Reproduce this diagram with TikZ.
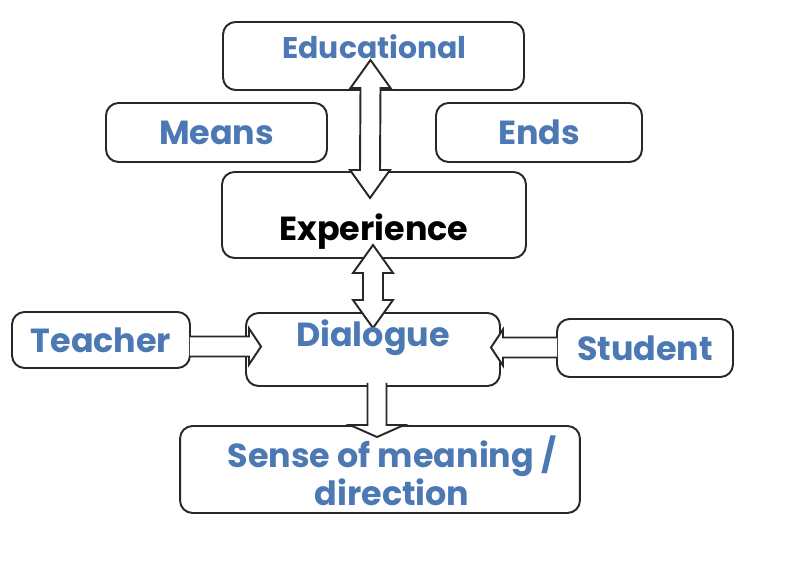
\documentclass[tikz,border=0pt]{standalone}
\usepackage{fontspec}
\setmainfont{Poppins}
\usetikzlibrary{positioning,calc}
\definecolor{txtblue}{RGB}{76,120,180}
\definecolor{edge}{RGB}{40,40,40}
\tikzset{
	box/.style={draw=edge,line width=1.1pt,rounded corners=0.25cm,fill=white,inner sep=0pt,outer sep=0pt,font=\bfseries\fontsize{19}{20}\selectfont,text=txtblue,align=center},
	lbl/.style={font=\bfseries\fontsize{19}{20}\selectfont,text=txtblue,align=center},
	barrow/.style={draw=edge,line width=1.1pt,fill=white,line join=miter},
}
% vertical double block arrow, tips at #1 (top) and #2 (bottom)
\newcommand{\dblarrow}[2]{%
	\draw[barrow] (#1) -- ($(#1)+(20,28)$) -- ($(#1)+(10,28)$) -- ($(#2)+(10,-28)$) -- ($(#2)+(20,-28)$) -- (#2) -- ($(#2)+(-20,-28)$) -- ($(#2)+(-10,-28)$) -- ($(#1)+(-10,28)$) -- ($(#1)+(-20,28)$) -- cycle;}
% horizontal block arrow from node side #1 to tip #2, #3=1 right, -1 left
\newcommand{\harrow}[3]{%
	\draw[barrow] ($(#1|-#2)+(0,-10)$) -- ($(#2)+(-12*#3,-10)$) -- ($(#2)+(-12*#3,-18)$) -- (#2) -- ($(#2)+(-12*#3,18)$) -- ($(#2)+(-12*#3,10)$) -- ($(#1|-#2)+(0,10)$);}

\begin{document}
\begin{tikzpicture}[x=0.02cm,y=-0.02cm]
	\useasboundingbox (0,0) rectangle (795,580);
	% boxes
	\node[box,minimum width=6.02cm,minimum height=1.36cm] (edu) at (373.5,56) {};
	\node[box,minimum width=4.42cm,minimum height=1.18cm] (means) at (216.5,132.5) {Means};
	\node[box,minimum width=4.12cm,minimum height=1.18cm] (ends) at (539,132.5) {Ends};
	\node[box,minimum width=6.08cm,minimum height=1.72cm] (exp) at (374,215) {};
	\node[box,minimum width=3.56cm,minimum height=1.12cm] (teacher) at (101,340) {Teacher};
	\node[box,minimum width=5.08cm,minimum height=1.46cm] (dia) at (373,349.5) {};
	\node[box,minimum width=3.52cm,minimum height=1.16cm] (student) at (645,348) {Student};
	\node[box,minimum width=8cm,minimum height=1.74cm] (sense) at (380,469.5) {};
	
	% block arrows
	\coordinate (t1) at ($(edu.south)+(-3,-30)$);
	\coordinate (b1) at ($(exp.north)+(-4,26)$);
	\dblarrow{t1}{b1}
	\coordinate (t2) at ($(exp.south)+(-1,-13)$);
	\coordinate (b2) at ($(dia.north)+(0,15)$);
	\dblarrow{t2}{b2}
	\coordinate (ta) at ($(dia.west)+(15,-3)$);
	\harrow{teacher.east}{ta}{1}
	\coordinate (sa) at ($(dia.east)+(-9,-2)$);
	\harrow{student.west}{sa}{-1}
	\coordinate (da) at ($(sense.north)+(-3,11)$);
	\draw[barrow] ($(da|-dia.south)+(-9.5,-3)$) -- ($(da)+(-9.5,-12)$) -- ($(da)+(-27,-12)$) -- (da) -- ($(da)+(27,-12)$) -- ($(da)+(9.5,-12)$) -- ($(da|-dia.south)+(9.5,-3)$);
	
	% labels
	\node[lbl,font=\bfseries\fontsize{17}{20}\selectfont] (edutxt) at ($(edu.center)+(1,-9)$) {Educational};
	\node[lbl,text=black] (exptxt) at ($(exp.center)+(0,17)$) {Experience};
	\node[lbl] (diatxt) at ($(dia.center)+(0,-12)$) {Dialogue};
	\node[lbl] (sensetxt) at ($(sense.center)+(12,1)$) {Sense of meaning /\\direction};
\end{tikzpicture}
\end{document}
